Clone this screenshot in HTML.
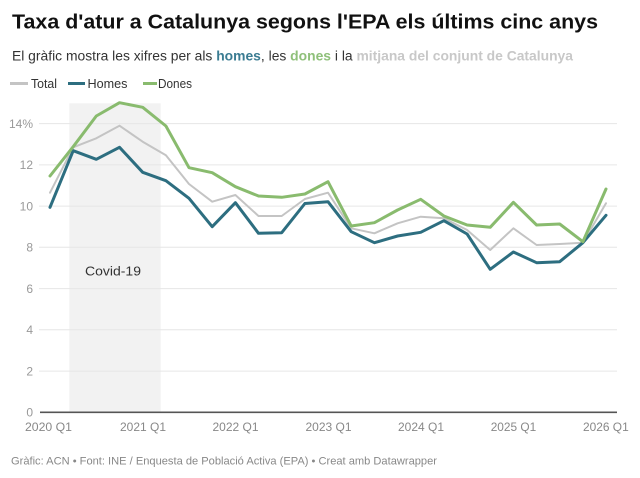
<!DOCTYPE html>
<html><head><meta charset="utf-8"><style>
html,body{margin:0;padding:0;background:#fff;}
svg{display:block;font-family:"Liberation Sans",Arial,sans-serif;}
</style></head><body>
<svg width="640" height="478" viewBox="0 0 640 478" xmlns="http://www.w3.org/2000/svg">
<rect width="640" height="478" fill="#fff"/>
<text x="12" y="28.5" font-size="20" font-weight="bold" fill="#111" textLength="586" lengthAdjust="spacingAndGlyphs">Taxa d'atur a Catalunya segons l'EPA els últims cinc anys</text>
<text x="12" y="60.7" font-size="13.5" fill="#333" textLength="561" lengthAdjust="spacingAndGlyphs">El gràfic mostra les xifres per als <tspan font-weight="bold" fill="#3b7c92">homes</tspan>, les <tspan font-weight="bold" fill="#8fc07a">dones</tspan> i la <tspan font-weight="bold" fill="#c8c8c8">mitjana del conjunt de Catalunya</tspan></text>
<line x1="10" y1="83.5" x2="28" y2="83.5" stroke="#c4c4c4" stroke-width="3"/>
<text x="31" y="88" font-size="12.5" fill="#333" textLength="26" lengthAdjust="spacingAndGlyphs">Total</text>
<line x1="68" y1="83.5" x2="85" y2="83.5" stroke="#2d6e80" stroke-width="3"/>
<text x="87.5" y="88" font-size="12.5" fill="#333" textLength="40" lengthAdjust="spacingAndGlyphs">Homes</text>
<line x1="143" y1="83.5" x2="157" y2="83.5" stroke="#89bb6e" stroke-width="3"/>
<text x="158" y="88" font-size="12.5" fill="#333" textLength="34" lengthAdjust="spacingAndGlyphs">Dones</text>
<rect x="69.3" y="103.3" width="91.4" height="309" fill="#f2f2f2"/>
<g stroke="#e6e6e6" stroke-width="1">
<line x1="39" y1="371.1" x2="617" y2="371.1"/>
<line x1="39" y1="329.8" x2="617" y2="329.8"/>
<line x1="39" y1="288.6" x2="617" y2="288.6"/>
<line x1="39" y1="247.3" x2="617" y2="247.3"/>
<line x1="39" y1="206.1" x2="617" y2="206.1"/>
<line x1="39" y1="164.9" x2="617" y2="164.9"/>
<line x1="39" y1="123.6" x2="617" y2="123.6"/>
</g>
<g font-size="12" fill="#999" text-anchor="end">
<text x="33" y="416.5">0</text>
<text x="33" y="375.3">2</text>
<text x="33" y="334">4</text>
<text x="33" y="292.8">6</text>
<text x="33" y="251.5">8</text>
<text x="33" y="210.3">10</text>
<text x="33" y="169.1">12</text>
<text x="33" y="127.8">14%</text>
</g>
<text x="85" y="275.5" font-size="13" fill="#333" textLength="56" lengthAdjust="spacingAndGlyphs">Covid-19</text>
<g fill="none" stroke-linejoin="round" stroke-linecap="round">
<polyline stroke="#c4c4c4" stroke-width="2" points="50,192.7 73.2,147.3 96.3,138.3 119.5,125.7 142.7,141.7 165.9,155.3 189,184 212.2,201.7 235.4,195 258.5,216 281.7,216 304.9,199 328,192.7 351.2,228.3 374.4,233.3 397.6,223.3 420.7,216.7 443.9,218.3 467.1,230 490.2,250 513.4,228.3 536.6,245 559.7,244 582.9,242.7 606,203.3"/>
<polyline stroke="#2d6e80" stroke-width="3" points="50,207.3 73.2,150.7 96.3,159.3 119.5,147.3 142.7,172.3 165.9,180.7 189,198.3 212.2,226.7 235.4,202.7 258.5,233.3 281.7,232.7 304.9,203.5 328,201.7 351.2,231.7 374.4,242.7 397.6,236 420.7,232.3 443.9,220.7 467.1,234 490.2,269.3 513.4,252 536.6,262.7 559.7,261.7 582.9,242.7 606,215.3"/>
<polyline stroke="#89bb6e" stroke-width="3" points="50,176 73.2,146.7 96.3,116 119.5,102.7 142.7,107.3 165.9,126 189,167.7 212.2,172.7 235.4,186.7 258.5,196 281.7,197.3 304.9,194 328,181.7 351.2,226 374.4,222.7 397.6,210 420.7,199.3 443.9,216 467.1,225 490.2,227.3 513.4,202.3 536.6,225 559.7,224 582.9,241.7 606,189"/>
</g>
<line x1="40" y1="412.3" x2="617" y2="412.3" stroke="#555" stroke-width="1.6"/>
<g font-size="12" fill="#888">
<text x="25" y="430.8" textLength="47" lengthAdjust="spacingAndGlyphs">2020 Q1</text>
<text x="120" y="430.8" textLength="46" lengthAdjust="spacingAndGlyphs">2021 Q1</text>
<text x="212.5" y="430.8" textLength="46" lengthAdjust="spacingAndGlyphs">2022 Q1</text>
<text x="305.5" y="430.8" textLength="46" lengthAdjust="spacingAndGlyphs">2023 Q1</text>
<text x="398" y="430.8" textLength="46" lengthAdjust="spacingAndGlyphs">2024 Q1</text>
<text x="490.7" y="430.8" textLength="45.5" lengthAdjust="spacingAndGlyphs">2025 Q1</text>
<text x="583" y="430.8" textLength="45.7" lengthAdjust="spacingAndGlyphs">2026 Q1</text>
</g>
<text x="11" y="464.3" font-size="10.8" fill="#888" textLength="426" lengthAdjust="spacingAndGlyphs">Gràfic: ACN • Font: INE / Enquesta de Població Activa (EPA) • Creat amb Datawrapper</text>
</svg>
</body></html>
